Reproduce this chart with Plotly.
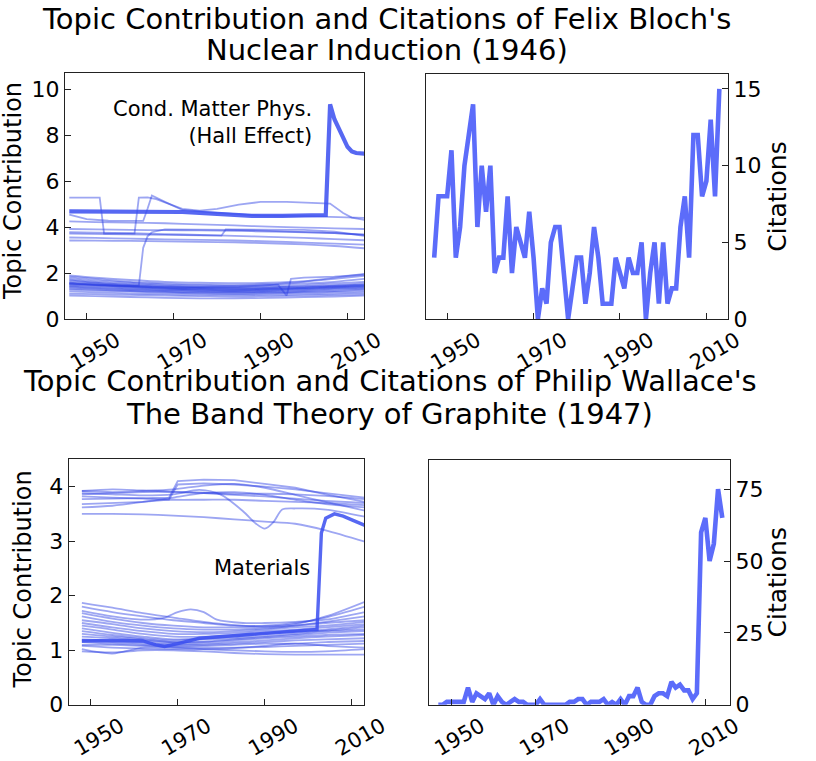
import plotly.graph_objects as go

W, H = 816, 761

# ---------------- Felix Bloch: topic contributions ----------------
bloch_years = [1946, 1952, 1960, 1968, 1976, 1984, 1992, 2000, 2007, 2014]
bloch_lower = [
    [1.90, 1.80, 1.70, 1.62, 1.58, 1.56, 1.58, 1.65, 1.80, 1.97],
    [1.85, 1.75, 1.62, 1.55, 1.50, 1.48, 1.52, 1.62, 1.75, 1.88],
    [1.78, 1.68, 1.58, 1.50, 1.46, 1.45, 1.48, 1.55, 1.62, 1.75],
    [1.72, 1.62, 1.52, 1.45, 1.40, 1.40, 1.42, 1.48, 1.55, 1.62],
    [1.68, 1.58, 1.48, 1.42, 1.38, 1.36, 1.38, 1.42, 1.48, 1.55],
    [1.62, 1.55, 1.45, 1.38, 1.35, 1.33, 1.35, 1.40, 1.45, 1.50],
    [1.58, 1.50, 1.42, 1.36, 1.32, 1.30, 1.32, 1.36, 1.42, 1.48],
    [1.55, 1.48, 1.40, 1.33, 1.30, 1.28, 1.30, 1.35, 1.40, 1.45],
    [1.50, 1.45, 1.38, 1.32, 1.28, 1.25, 1.28, 1.32, 1.38, 1.42],
    [1.45, 1.40, 1.33, 1.28, 1.25, 1.22, 1.25, 1.30, 1.35, 1.40],
    [1.42, 1.36, 1.30, 1.25, 1.22, 1.20, 1.22, 1.26, 1.32, 1.36],
    [1.38, 1.32, 1.26, 1.22, 1.18, 1.17, 1.18, 1.22, 1.28, 1.32],
    [1.33, 1.28, 1.22, 1.18, 1.15, 1.14, 1.15, 1.18, 1.22, 1.28],
    [1.28, 1.24, 1.20, 1.15, 1.12, 1.10, 1.12, 1.15, 1.18, 1.22],
    [1.20, 1.16, 1.12, 1.08, 1.06, 1.05, 1.06, 1.08, 1.12, 1.15],
    [1.10, 1.08, 1.05, 1.02, 1.00, 0.98, 1.00, 1.02, 1.05, 1.08],
    [1.02, 1.00, 0.96, 0.92, 0.90, 0.90, 0.92, 0.95, 0.98, 1.02],
]
bloch_upper = [
    [4.25, 4.22, 4.20, 4.17, 4.12, 4.08, 4.02, 3.98, 3.95, 3.92],
    [3.92, 3.90, 3.88, 3.87, 3.86, 3.84, 3.81, 3.78, 3.74, 3.68],
    [3.78, 3.76, 3.74, 3.70, 3.66, 3.62, 3.58, 3.53, 3.48, 3.43],
    [3.55, 3.53, 3.50, 3.47, 3.45, 3.42, 3.38, 3.33, 3.28, 3.24],
    [3.42, 3.41, 3.40, 3.38, 3.36, 3.34, 3.30, 3.25, 3.18, 3.08],
]
bloch_stepA_years = [1946, 1953, 1954, 1961, 1962, 1964, 1966, 1969, 1972, 1976, 1980,
                     1985, 1990, 1996, 2002, 2006, 2009, 2011, 2014]
bloch_stepA_values = [5.29, 5.29, 3.72, 3.72, 5.29, 5.30, 5.22, 5.00, 4.80, 4.72, 4.80,
                      4.98, 5.10, 5.10, 5.06, 5.03, 4.62, 4.42, 4.31]
bloch_stepB_years = [1946, 1950, 1955, 1963, 1964, 1965, 1968, 1972, 1980, 1990, 2000, 2007, 2014]
bloch_stepB_values = [4.55, 4.35, 4.28, 4.27, 4.80, 5.38, 5.10, 4.75, 4.62, 4.50, 4.48, 4.45, 4.40]
bloch_stepC_years = [1946, 1955, 1965, 1975, 1981, 1982, 1990, 2000, 2007, 2014]
bloch_stepC_values = [3.72, 3.70, 3.66, 3.64, 3.63, 3.90, 3.90, 3.88, 3.80, 3.62]
bloch_rise_years = [1946, 1952, 1958, 1962, 1963, 1964, 1965, 1968, 1976, 1984, 1992, 2000, 2007, 2014]
bloch_rise_values = [1.55, 1.50, 1.45, 1.45, 3.10, 3.60, 3.78, 3.90, 3.90, 3.88, 3.84, 3.80, 3.74, 3.66]
bloch_kink_years = [1946, 1955, 1965, 1975, 1985, 1994, 1996, 1997, 2000, 2007, 2014]
bloch_kink_values = [1.52, 1.46, 1.40, 1.38, 1.40, 1.50, 1.02, 1.75, 1.80, 1.85, 1.93]
bloch_hall_years = [1946, 1955, 1965, 1972, 1980, 1988, 1995, 2000, 2005, 2006, 2007, 2008,
                    2009, 2010, 2011, 2012, 2014]
bloch_hall_values = [4.69, 4.68, 4.67, 4.66, 4.58, 4.49, 4.49, 4.51, 4.53, 9.35, 8.70, 8.30,
                     7.90, 7.50, 7.30, 7.23, 7.20]

# ---------------- Felix Bloch: citations ----------------
bloch_cite_years = list(range(1947, 2014))
bloch_cite_values = [4, 8, 8, 8, 11, 4, 6, 10, 12, 14,
                     6, 10, 7, 10, 3, 4, 4, 8, 3, 6,
                     5, 4, 7, 4, 0, 2, 1, 5, 6, 6,
                     3, 0, 2, 4, 4, 1, 3, 6, 4, 1,
                     1, 1, 4, 3, 2, 4, 3, 3, 5, 0,
                     3, 5, 1, 5, 1, 2, 2, 6, 8, 4,
                     12, 12, 8, 9, 13, 8, 15]

# ---------------- Philip Wallace: topic contributions ----------------
wallace_years = [1948, 1955, 1962, 1969, 1976, 1983, 1990, 1997, 2004, 2013]
wallace_lower = [
    [1.87, 1.78, 1.68, 1.60, 1.52, 1.46, 1.44, 1.48, 1.62, 1.89],
    [1.80, 1.70, 1.62, 1.55, 1.50, 1.45, 1.45, 1.50, 1.60, 1.80],
    [1.68, 1.58, 1.50, 1.45, 1.42, 1.42, 1.42, 1.45, 1.52, 1.62],
    [1.62, 1.52, 1.45, 1.40, 1.38, 1.38, 1.40, 1.45, 1.50, 1.55],
    [1.55, 1.48, 1.40, 1.35, 1.33, 1.35, 1.38, 1.42, 1.45, 1.52],
    [1.50, 1.42, 1.35, 1.30, 1.30, 1.32, 1.35, 1.38, 1.42, 1.48],
    [1.45, 1.38, 1.30, 1.25, 1.25, 1.28, 1.32, 1.35, 1.38, 1.45],
    [1.40, 1.32, 1.25, 1.20, 1.22, 1.25, 1.30, 1.33, 1.36, 1.42],
    [1.35, 1.28, 1.22, 1.18, 1.20, 1.22, 1.26, 1.30, 1.35, 1.38],
    [1.30, 1.25, 1.20, 1.15, 1.16, 1.20, 1.24, 1.28, 1.32, 1.35],
    [1.25, 1.22, 1.18, 1.15, 1.15, 1.18, 1.22, 1.25, 1.28, 1.30],
    [1.20, 1.18, 1.15, 1.12, 1.12, 1.15, 1.18, 1.22, 1.25, 1.28],
    [1.18, 1.15, 1.12, 1.10, 1.10, 1.12, 1.15, 1.18, 1.20, 1.22],
    [1.15, 1.12, 1.10, 1.08, 1.08, 1.10, 1.12, 1.12, 1.15, 1.17],
    [1.10, 1.10, 1.08, 1.06, 1.05, 1.05, 1.06, 1.08, 1.10, 1.12],
    [1.02, 0.94, 1.05, 1.05, 1.02, 1.00, 0.98, 0.97, 0.98, 1.02],
    [0.98, 0.96, 1.00, 1.00, 0.98, 0.95, 0.93, 0.92, 0.92, 0.92],
    [1.08, 1.05, 1.03, 1.02, 1.02, 1.04, 1.08, 1.12, 1.08, 1.05],
]
wallace_upper = [
    [3.92, 3.95, 3.93, 3.91, 3.89, 3.87, 3.87, 3.86, 3.83, 3.77],
    [3.62, 3.65, 3.72, 3.80, 3.88, 3.90, 3.85, 3.76, 3.68, 3.62],
    [3.50, 3.50, 3.49, 3.47, 3.44, 3.40, 3.36, 3.32, 3.20, 2.99],
    [3.92, 3.90, 3.92, 3.95, 4.02, 4.05, 3.98, 3.85, 3.72, 3.56],
    [3.82, 3.80, 3.78, 3.76, 3.76, 3.76, 3.74, 3.72, 3.70, 3.66],
    [3.86, 3.88, 3.90, 3.90, 3.88, 3.85, 3.82, 3.78, 3.74, 3.70],
]
wallace_hump_years = [1948, 1955, 1962, 1967, 1970, 1973, 1976, 1979, 1985, 1990, 1997, 2004, 2013]
wallace_hump_values = [1.72, 1.62, 1.56, 1.60, 1.70, 1.75, 1.70, 1.56, 1.50, 1.50, 1.52, 1.56, 1.70]
wallace_dip_years = [1948, 1955, 1962, 1969, 1975, 1980, 1985, 1988, 1990, 1992, 1994, 1997, 2004, 2013]
wallace_dip_values = [3.88, 3.86, 3.84, 3.86, 3.94, 3.85, 3.55, 3.32, 3.23, 3.35, 3.58, 3.60, 3.58, 3.45]
wallace_stepA_years = [1948, 1955, 1962, 1968, 1969, 1970, 1976, 1983, 1990, 1997, 2004, 2013]
wallace_stepA_values = [3.77, 3.78, 3.80, 3.80, 3.95, 4.10, 4.13, 4.12, 4.05, 3.98, 3.86, 3.72]
wallace_stepB_years = [1948, 1955, 1962, 1968, 1969, 1970, 1976, 1983, 1990, 1997, 2004, 2013]
wallace_stepB_values = [3.68, 3.70, 3.72, 3.76, 3.90, 4.04, 4.06, 4.04, 4.00, 3.95, 3.88, 3.80]
wallace_mat_years = [1948, 1955, 1962, 1965, 1967, 1970, 1975, 1985, 1995, 2001, 2002, 2003,
                     2004, 2006, 2008, 2010, 2013]
wallace_mat_values = [1.17, 1.18, 1.17, 1.10, 1.07, 1.12, 1.22, 1.28, 1.33, 1.37, 1.38, 3.15,
                      3.42, 3.50, 3.46, 3.39, 3.29]

# ---------------- Philip Wallace: citations ----------------
wallace_cite_years = list(range(1947, 2015))
wallace_cite_values = [0, 0, 1, 1, 1, 1, 1, 6, 1, 4,
                       3, 2, 4, 0, 3, 1, 0, 1, 2, 1,
                       1, 0, 0, 0, 2, 0, 0, 0, 0, 0,
                       0, 1, 1, 2, 2, 0, 1, 1, 1, 2,
                       0, 1, 0, 2, 0, 3, 3, 6, 1, 0,
                       0, 3, 4, 4, 3, 8, 6, 7, 5, 5,
                       2, 4, 60, 65, 50, 56, 75, 65]

x_ticks = [1950, 1970, 1990, 2010]
x_tick_text = ["1950", "1970", "1990", "2010"]

# ---------------- styles ----------------
FONT = "DejaVu Sans"
THIN = "rgb(40,60,228)"
HIGH = "rgb(58,78,240)"
CITE = "rgb(92,108,250)"
FRAME = "#222222"

fig = go.Figure()


def thin(x, y, xa, ya, shape="spline"):
    fig.add_trace(go.Scatter(x=x, y=y, mode="lines", xaxis=xa, yaxis=ya,
                             line=dict(color=THIN, width=1.8, shape=shape, smoothing=0.8),
                             opacity=0.45, hoverinfo="skip", showlegend=False))


# Bloch topics
for vals in bloch_lower + bloch_upper:
    thin(bloch_years, vals, "x", "y")
thin(bloch_stepA_years, bloch_stepA_values, "x", "y", "linear")
thin(bloch_stepB_years, bloch_stepB_values, "x", "y", "linear")
thin(bloch_stepC_years, bloch_stepC_values, "x", "y", "linear")
thin(bloch_rise_years, bloch_rise_values, "x", "y", "linear")
thin(bloch_kink_years, bloch_kink_values, "x", "y", "linear")
fig.add_trace(go.Scatter(x=bloch_hall_years, y=bloch_hall_values, mode="lines", xaxis="x", yaxis="y",
                         line=dict(color=HIGH, width=4.2), opacity=0.85,
                         hoverinfo="skip", showlegend=False))
# Bloch citations
fig.add_trace(go.Scatter(x=bloch_cite_years, y=bloch_cite_values, mode="lines", xaxis="x2", yaxis="y2",
                         line=dict(color=CITE, width=4.6), hoverinfo="skip", showlegend=False))

# Wallace topics
for vals in wallace_lower + wallace_upper:
    thin(wallace_years, vals, "x3", "y3")
thin(wallace_hump_years, wallace_hump_values, "x3", "y3")
thin(wallace_dip_years, wallace_dip_values, "x3", "y3")
thin(wallace_stepA_years, wallace_stepA_values, "x3", "y3", "linear")
thin(wallace_stepB_years, wallace_stepB_values, "x3", "y3", "linear")
fig.add_trace(go.Scatter(x=wallace_mat_years, y=wallace_mat_values, mode="lines", xaxis="x3", yaxis="y3",
                         line=dict(color=HIGH, width=3.4), opacity=0.85,
                         hoverinfo="skip", showlegend=False))
# Wallace citations
fig.add_trace(go.Scatter(x=wallace_cite_years, y=wallace_cite_values, mode="lines", xaxis="x4", yaxis="y4",
                         line=dict(color=CITE, width=4.6), hoverinfo="skip", showlegend=False))


def px(v):
    return v / W


def py(v):
    return 1 - v / H


def xax(x0, x1, rng, anchor):
    return dict(domain=[px(x0), px(x1)], range=rng, anchor=anchor,
                tickvals=x_ticks, ticktext=x_tick_text, tickangle=-30,
                ticks="inside", ticklen=6, tickwidth=1.3, tickcolor=FRAME,
                ticklabelshift=30, ticklabelstandoff=0,
                showline=True, mirror=True, linecolor=FRAME, linewidth=1.3,
                showgrid=False, zeroline=False,
                tickfont=dict(family=FONT, size=21, color="black"))


def yax(y0, y1, rng, tv, anchor, side="left"):
    return dict(domain=[py(y1), py(y0)], range=rng, anchor=anchor, side=side,
                tickvals=tv, ticks="inside", ticklen=6, tickwidth=1.3, tickcolor=FRAME,
                showline=True, mirror=True, linecolor=FRAME, linewidth=1.3,
                showgrid=False, zeroline=False,
                tickfont=dict(family=FONT, size=22, color="black"))


fig.update_layout(
    width=W, height=H, margin=dict(l=0, r=0, t=0, b=0),
    paper_bgcolor="white", plot_bgcolor="white", showlegend=False,
    xaxis=xax(67, 375.5, [1945, 2013.8], "y"),
    yaxis=yax(74, 325, [0, 10.73], [0, 2, 4, 6, 8, 10], "x"),
    xaxis2=xax(439, 751, [1945, 2015], "y2"),
    yaxis2=yax(75, 325, [0, 16], [0, 5, 10, 15], "x2", "right"),
    xaxis3=xax(71, 376, [1945, 2012.9], "y3"),
    yaxis3=yax(468, 718, [0, 4.5], [0, 1, 2, 3, 4], "x3"),
    xaxis4=xax(443, 753, [1944.9, 2015.8], "y4"),
    yaxis4=yax(469, 718, [0, 85], [0, 25, 50, 75], "x4", "right"),
)


def ann(text, x, y, size, **kw):
    d = dict(text=text, x=x, y=y, showarrow=False, xanchor="center", yanchor="middle",
             font=dict(family=FONT, size=size, color="black"))
    d.update(kw)
    fig.add_annotation(**d)


# Titles
ann("Topic Contribution and Citations of Felix Bloch's", px(399), py(19), 29, xref="paper", yref="paper")
ann("Nuclear Induction (1946)", px(399), py(51), 29, xref="paper", yref="paper")
ann("Topic Contribution and Citations of Philip Wallace's", px(402), py(388), 29, xref="paper", yref="paper")
ann("The Band Theory of Graphite (1947)", px(402), py(422), 29, xref="paper", yref="paper")
# Axis titles
ann("Topic Contribution", px(14), py(195), 24, xref="paper", yref="paper", textangle=-90)
ann("Topic Contribution", px(24), py(590), 24, xref="paper", yref="paper", textangle=-90)
ann("Citations", px(802), py(200), 25, xref="paper", yref="paper", textangle=-90)
ann("Citations", px(802), py(593), 25, xref="paper", yref="paper", textangle=-90)
# In-plot labels
ann("Cond. Matter Phys.<br>(Hall Effect)", 2002.4, 9.75, 21, xref="x", yref="y",
    xanchor="right", yanchor="top", align="right")
ann("Materials", 1989.3, 2.5, 21, xref="x3", yref="y3")

fig.write_html("out.html", config={"displayModeBar": False},
               post_script="document.body.style.margin='0';document.body.style.overflow='hidden';")
